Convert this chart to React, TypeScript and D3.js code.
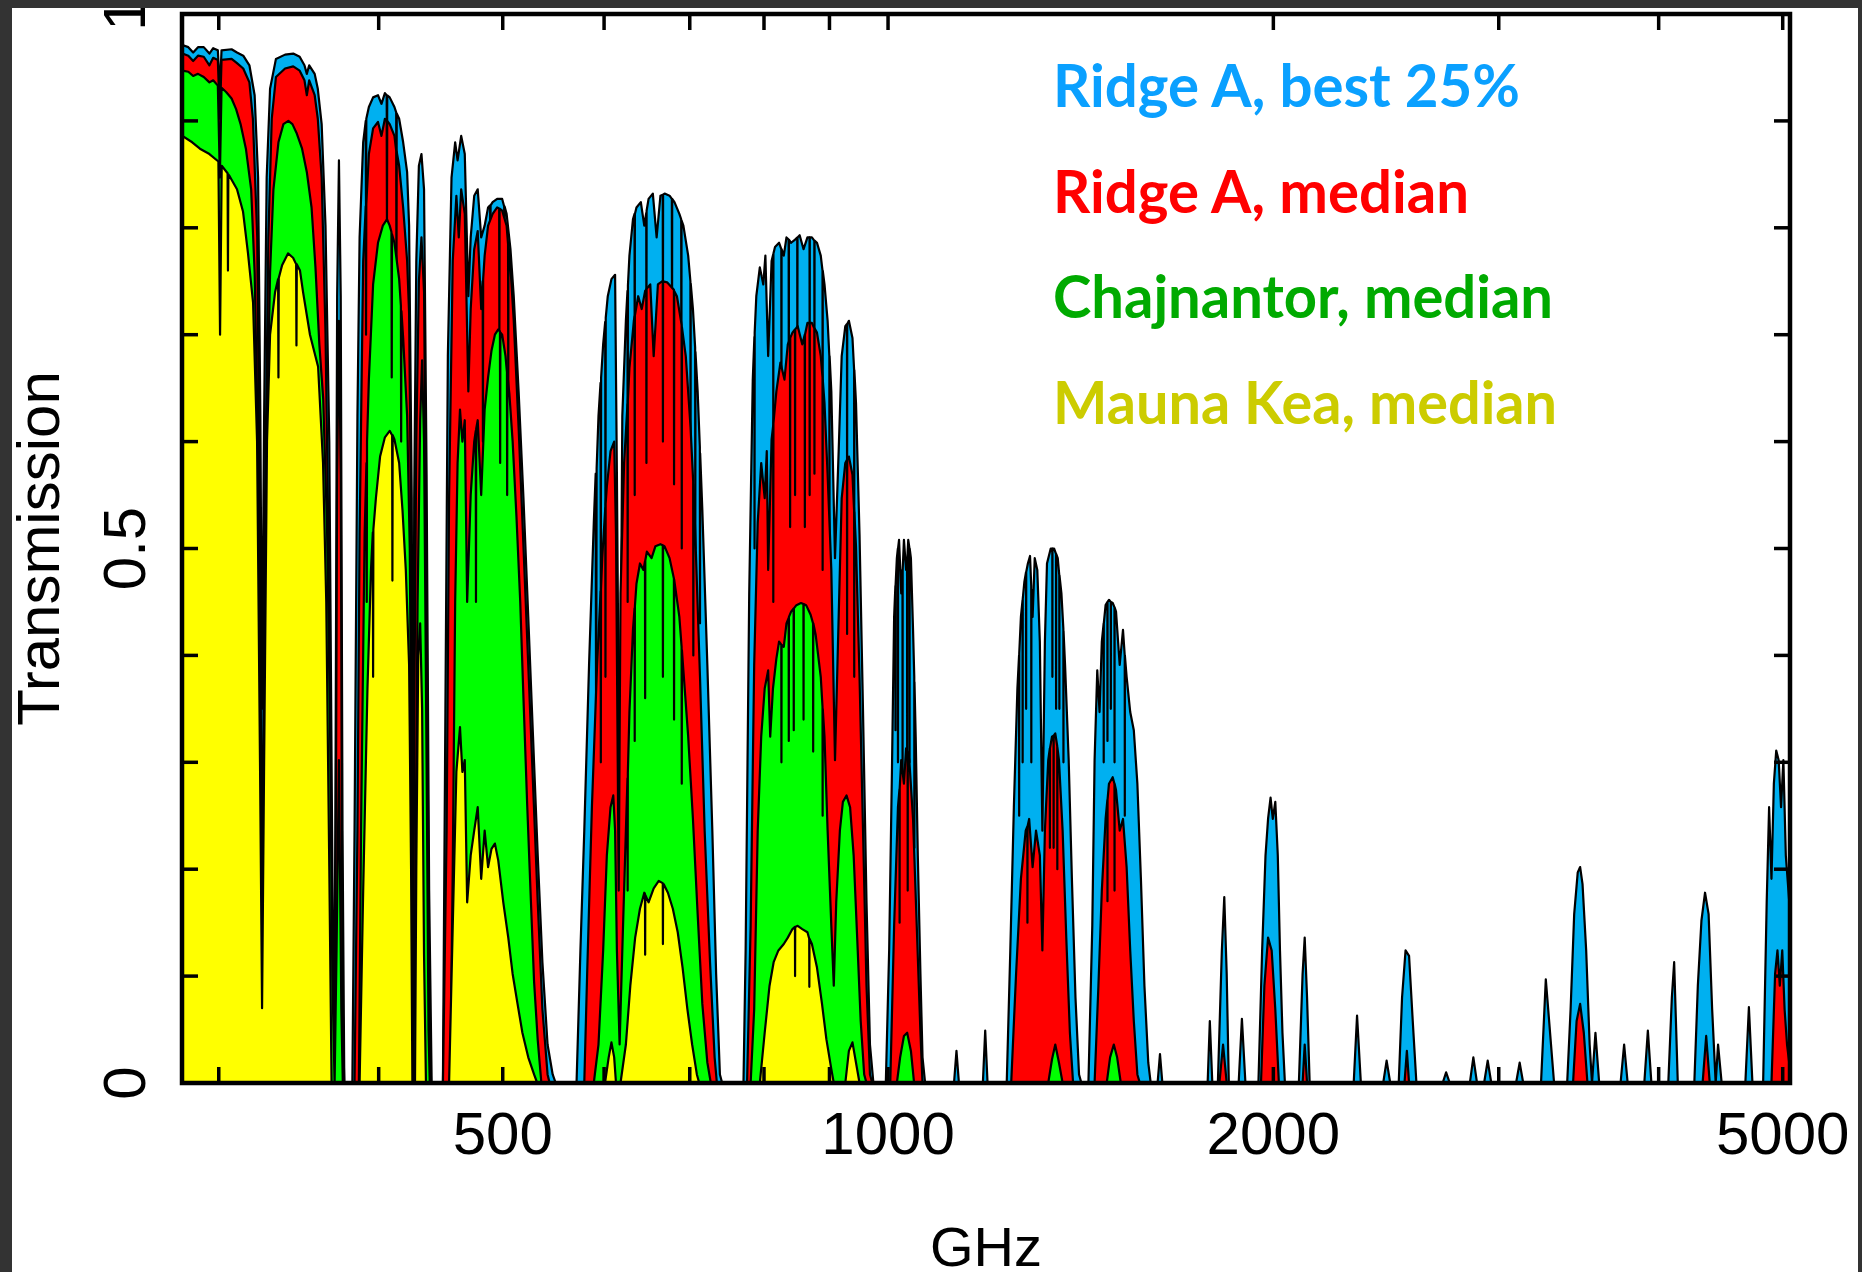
import * as d3 from "d3";
import { useEffect, useRef } from "react";

type Pt = [number, number];

// [GHz, transmission]
const ridgeBest: Pt[] = [
  [281, 0.971], [284, 0.969], [286.5, 0.964], [289, 0.969], [292, 0.969], [295, 0.963], [297, 0.968], [299.5, 0.966], [300.6, 0.93], [301.5, 0.966],
  [307, 0.967], [310, 0.964], [313.5, 0.961], [317, 0.952], [320, 0.924], [322, 0.847], [323.3, 0.624], [324.3, 0.35], [325.5, 0.624], [327, 0.847],
  [329, 0.93], [332.5, 0.958], [338, 0.962], [343, 0.963], [347, 0.96], [350, 0.952], [351.5, 0.944], [353, 0.952], [356.5, 0.944], [358.5, 0.93],
  [361, 0.897], [363.5, 0.802], [366, 0.6], [367.5, 0.3], [369, 0.008], [370, 0.236], [371.2, 0.736], [372.4, 0.863], [373.6, 0.736], [374.8, 0.236],
  [376, 0], [381.5, 0],
  [383, 0.236], [385, 0.624], [386.5, 0.791], [389, 0.88], [390.8, 0.9], [391, 0.8], [391.2, 0.902], [393, 0.913], [396, 0.922], [399.5, 0.924],
  [402, 0.916], [404.5, 0.926], [405.8, 0.924], [406, 0.85], [406.2, 0.924], [408, 0.922], [411.5, 0.913], [412.8, 0.908], [413, 0.8], [413.2, 0.907],
  [415, 0.902], [418, 0.88], [421, 0.852], [422.5, 0.802], [424.5, 0.547], [425.5, 0.147], [426.4, 0.547], [428, 0.769], [430, 0.858],
  [432, 0.869], [434, 0.836], [436, 0.569], [438, 0.18], [440, 0], [449, 0],
  [451, 0.347], [453, 0.68], [456, 0.847], [459, 0.88], [461, 0.863], [464, 0.886], [467, 0.869], [470, 0.736], [472, 0.791], [475, 0.83],
  [478, 0.836], [481, 0.791], [484, 0.802], [487, 0.819], [488.8, 0.821], [489, 0.7], [489.2, 0.821], [491, 0.824], [495, 0.827], [499.5, 0.827],
  [501.3, 0.82], [501.5, 0.72], [501.7, 0.82], [503.5, 0.813], [507, 0.78], [510, 0.736],
  [514.5, 0.647], [519, 0.547], [523.5, 0.436], [528, 0.324], [532.5, 0.213], [537, 0.113], [542, 0.036], [547, 0.008], [550, 0], [571, 0],
  [575, 0.124], [579, 0.236], [584, 0.391], [589, 0.524], [591, 0.57], [591.5, 0.3], [592, 0.575], [594, 0.624], [596.2, 0.655], [596.5, 0.45],
  [596.8, 0.66], [599, 0.691], [601.2, 0.712], [601.5, 0.52], [601.8, 0.716], [604, 0.736], [608, 0.752], [612, 0.756], [614, 0.569],
  [617, 0.236], [620, 0.624], [624, 0.713], [625.8, 0.741], [626, 0.55], [626.3, 0.746], [628, 0.774], [632, 0.808], [633.8, 0.813], [634, 0.62],
  [634.2, 0.813], [636, 0.819], [641, 0.824], [645, 0.802], [647.3, 0.814], [647.5, 0.66], [647.7, 0.816], [650, 0.827], [655, 0.832],
  [659.5, 0.791], [664, 0.83], [666.8, 0.831], [667, 0.7], [667.2, 0.831], [669, 0.832], [675, 0.83], [677.8, 0.827], [678, 0.68], [678.2, 0.827],
  [681, 0.824], [687, 0.813], [689.3, 0.808], [689.5, 0.62], [689.7, 0.807], [692, 0.802], [698, 0.774], [700.8, 0.75], [701, 0.55], [701.2, 0.748],
  [704, 0.724], [706.8, 0.688], [707, 0.5], [707.2, 0.684], [710, 0.647], [712.8, 0.595], [713, 0.43], [713.2, 0.589],
  [716, 0.536], [722.5, 0.391], [729, 0.236], [734, 0.102], [739, 0.008], [742, 0], [771, 0],
  [774, 0.124], [779, 0.458], [784, 0.658], [786.3, 0.698], [786.5, 0.5], [786.7, 0.702], [789, 0.736], [794, 0.763], [799, 0.747], [802, 0.774],
  [806, 0.68], [811, 0.769], [813.3, 0.775], [813.5, 0.6], [813.7, 0.776], [816, 0.782], [822, 0.786], [825.3, 0.78], [825.5, 0.62], [825.7, 0.78],
  [829, 0.774], [833, 0.791], [836.3, 0.789], [836.5, 0.6], [836.7, 0.789], [840, 0.786], [846, 0.789], [849.3, 0.791], [849.5, 0.65], [849.7, 0.791],
  [853, 0.793], [859, 0.78], [865, 0.791], [868.3, 0.791], [868.5, 0.62], [868.7, 0.791], [872, 0.791], [875.8, 0.788], [876, 0.66], [876.2, 0.788],
  [880, 0.786], [886, 0.774], [888.8, 0.76], [889, 0.55], [889.2, 0.76], [892, 0.747], [897, 0.713], [899.8, 0.68], [900, 0.45], [900.2, 0.68],
  [903, 0.647], [909, 0.491], [915, 0.591], [920, 0.68], [926, 0.708], [928.8, 0.71], [929, 0.5], [929.2, 0.71], [932, 0.713], [938, 0.697],
  [940.8, 0.667], [941, 0.45], [941.2, 0.667], [944, 0.636], [950, 0.513], [956, 0.347], [962, 0.169], [968, 0.036], [974, 0], [996, 0],
  [1002, 0.124], [1007, 0.291], [1011, 0.436], [1013.3, 0.465], [1013.5, 0.33], [1013.7, 0.466], [1016, 0.491], [1017.8, 0.5], [1018, 0.3],
  [1018.2, 0.5], [1020, 0.508], [1024, 0.458], [1026.3, 0.48], [1026.5, 0.28], [1026.7, 0.48], [1029, 0.508], [1033, 0.48], [1034.8, 0.49],
  [1035, 0.3], [1035.2, 0.49], [1037, 0.508], [1039.3, 0.5], [1039.5, 0.3], [1039.7, 0.5], [1042, 0.491],
  [1046, 0.424], [1048.3, 0.38], [1048.5, 0.22], [1048.7, 0.375], [1051, 0.324], [1055, 0.213], [1060, 0.102], [1064, 0.024], [1069, 0],
  [1126, 0], [1131, 0.03], [1136, 0], [1186, 0], [1191, 0.049], [1196, 0],
  [1238, 0], [1246, 0.124], [1254, 0.258], [1262, 0.369], [1265.8, 0.4], [1266, 0.25], [1266.2, 0.402], [1270, 0.436], [1273.8, 0.452],
  [1274, 0.3], [1274.2, 0.453], [1278, 0.469], [1281.8, 0.478], [1282, 0.35], [1282.2, 0.478],
  [1286, 0.486], [1291, 0.493], [1293.8, 0.465], [1294, 0.3], [1294.2, 0.462], [1297, 0.436], [1302, 0.491],
  [1308, 0.48], [1314, 0.413], [1320, 0.236], [1326, 0.413], [1331, 0.486], [1340, 0.5], [1343.8, 0.5], [1344, 0.38], [1344.2, 0.5], [1348, 0.5],
  [1352.8, 0.495], [1353, 0.35], [1353.2, 0.495], [1357, 0.491], [1360.8, 0.475], [1361, 0.35], [1361.2, 0.475], [1366, 0.458], [1370.8, 0.425],
  [1371, 0.3], [1371.2, 0.423], [1375, 0.391],
  [1384, 0.302], [1392, 0.191], [1401, 0.08], [1410, 0.008], [1416, 0],
  [1434, 0], [1444, 0.147], [1450, 0.302], [1457, 0.386], [1463, 0.347], [1469, 0.413], [1473.8, 0.43], [1474, 0.3], [1474.2, 0.43], [1479, 0.447],
  [1483.8, 0.45], [1484, 0.32], [1484.2, 0.45], [1488, 0.452], [1492.8, 0.45], [1493, 0.35],
  [1493.2, 0.45], [1498, 0.449], [1502.8, 0.445], [1503, 0.3], [1503.2, 0.445], [1507, 0.441],
  [1517, 0.391], [1526, 0.424], [1530.8, 0.4], [1531, 0.25], [1531.2, 0.4], [1536, 0.38], [1546, 0.347], [1556, 0.33], [1566, 0.28], [1576, 0.191],
  [1586, 0.091], [1597, 0.019], [1604, 0],
  [1624, 0], [1631, 0.027], [1638, 0], [1777, 0], [1784, 0.058], [1792, 0], [1810, 0], [1823, 0.124], [1831, 0.174], [1839, 0.102],
  [1846, 0], [1879, 0], [1890, 0.06], [1902, 0],
  [1947, 0], [1960, 0.124], [1972, 0.213], [1981, 0.247], [1990, 0.267], [1998, 0.247], [2007, 0.263], [2016, 0.213], [2024, 0.124], [2033, 0.047],
  [2042, 0], [2094, 0], [2108, 0.102], [2116, 0.136], [2125, 0.08], [2135, 0],
  [2311, 0], [2325, 0.063], [2341, 0], [2437, 0], [2452, 0.021], [2468, 0],
  [2506, 0], [2521, 0.08], [2537, 0.124], [2553, 0.119], [2570, 0.058], [2587, 0],
  [2712, 0], [2729, 0.01], [2747, 0], [2848, 0], [2866, 0.024], [2885, 0], [2922, 0], [2941, 0.021], [2960, 0], [3095, 0], [3115, 0.019], [3135, 0],
  [3237, 0], [3265, 0.097], [3314, 0],
  [3393, 0], [3414, 0.069], [3436, 0.158], [3458, 0.197], [3473, 0.202], [3488, 0.186], [3511, 0.124], [3533, 0.036], [3548, 0], [3570, 0.047], [3594, 0],
  [3735, 0], [3759, 0.036], [3783, 0], [3898, 0], [3923, 0.049], [3948, 0],
  [4070, 0], [4096, 0.08], [4113, 0.113], [4140, 0],
  [4265, 0], [4292, 0.091], [4320, 0.152], [4348, 0.178], [4376, 0.158], [4404, 0.069], [4432, 0], [4451, 0.036], [4480, 0],
  [4675, 0], [4705, 0.071], [4735, 0],
  [4827, 0], [4858, 0.169], [4879, 0.258], [4900, 0.191], [4921, 0.28], [4942, 0.311], [4964, 0.302], [4985, 0.258], [5006, 0.302], [5028, 0.213],
  [5066, 0.16],
];

const ridgeMedian: Pt[] = [
  [281, 0.963], [284, 0.961], [286.5, 0.956], [289, 0.961], [292, 0.96], [295, 0.952], [297, 0.959], [299.5, 0.957], [300.6, 0.902], [301.5, 0.957],
  [307, 0.958], [310, 0.954], [313.5, 0.949], [317, 0.936], [319, 0.902], [321.5, 0.791], [323, 0.513], [324.3, 0.147], [325.8, 0.513], [328, 0.791],
  [330, 0.902], [332.5, 0.941], [338, 0.949], [343, 0.951], [347, 0.947], [350, 0.938], [351.5, 0.924], [353, 0.938], [356.5, 0.924], [358.5, 0.902],
  [361, 0.847], [363.5, 0.702], [365.5, 0.5], [367, 0.2], [368.5, 0], [370, 0.124], [371.2, 0.569], [372.4, 0.713], [373.6, 0.569], [374.8, 0.069],
  [376, 0], [383, 0],
  [385, 0.236], [386.5, 0.513], [389, 0.769], [390.8, 0.82], [391, 0.7], [391.2, 0.822], [393, 0.869], [396, 0.893], [399.5, 0.899], [402, 0.886],
  [404.5, 0.902], [405.8, 0.9], [406, 0.8], [406.2, 0.9], [408, 0.897], [411.5, 0.886], [412.8, 0.872], [413, 0.75], [413.2, 0.871],
  [415, 0.858], [418, 0.819], [421, 0.769], [422.5, 0.72], [424.5, 0.45], [425.5, 0.05], [426.5, 0.35], [428, 0.6], [430, 0.75], [432, 0.791],
  [434, 0.74], [436, 0.45], [438, 0.1], [439.5, 0], [449, 0],
  [452, 0.236], [454, 0.547], [457, 0.769], [460, 0.83], [462, 0.791], [464, 0.836], [467, 0.813], [470, 0.647], [472, 0.724], [475, 0.78],
  [478, 0.797], [481, 0.724], [482.3, 0.75], [482.5, 0.6], [482.7, 0.752], [484, 0.774], [487, 0.802], [491, 0.813], [495, 0.819], [496.8, 0.818],
  [497, 0.7], [497.2, 0.818], [499.5, 0.816], [503.5, 0.802], [504.8, 0.785], [505, 0.65], [505.2, 0.784], [507, 0.763], [510, 0.713],
  [514.5, 0.613], [519, 0.502], [523.5, 0.391], [528, 0.28], [532.5, 0.169], [537, 0.069], [542, 0.008], [544, 0], [579, 0],
  [582, 0.102], [587, 0.258], [592.5, 0.391], [596.3, 0.46], [596.5, 0.3], [596.7, 0.462], [598, 0.491], [601.3, 0.538], [601.5, 0.38], [601.7, 0.542],
  [603, 0.558], [607, 0.591], [611, 0.6], [613, 0.513], [616, 0.18], [618, 0.458],
  [622, 0.58], [625.8, 0.635], [626, 0.45], [626.2, 0.638], [628, 0.669], [633, 0.713], [633.8, 0.717], [634, 0.55], [634.2, 0.718], [638, 0.736],
  [642, 0.724], [646, 0.741], [647.3, 0.742], [647.5, 0.58], [647.7, 0.743], [652, 0.747], [656, 0.68], [661, 0.747], [666, 0.75], [666.8, 0.75],
  [667, 0.6], [667.2, 0.75], [672, 0.749], [678, 0.744], [680.3, 0.742], [680.5, 0.56], [680.7, 0.741], [684, 0.736], [689, 0.713], [689.8, 0.709],
  [690, 0.5], [690.2, 0.707], [695, 0.68], [701, 0.613], [704.3, 0.563], [704.5, 0.4], [704.7, 0.56], [707, 0.513], [713, 0.38], [719, 0.236], [726, 0.113],
  [732, 0.024], [735, 0], [776, 0],
  [781, 0.147], [786, 0.391], [791, 0.524], [796, 0.58], [801, 0.547], [804, 0.591], [806, 0.48], [811, 0.602], [813.3, 0.615], [813.5, 0.45],
  [813.7, 0.617], [818, 0.647], [824, 0.674], [830, 0.658], [835, 0.691], [838.3, 0.696], [838.5, 0.52], [838.7, 0.697], [842, 0.702], [845.8, 0.705],
  [846, 0.55], [846.2, 0.705], [850, 0.708], [857, 0.691], [860.8, 0.7], [861, 0.52], [861.2, 0.7], [865, 0.711], [868.3, 0.711], [868.5, 0.55],
  [868.7, 0.711], [872, 0.711], [875.8, 0.706], [876, 0.57], [876.2, 0.706], [880, 0.702], [886, 0.68], [888.8, 0.66], [889, 0.48], [889.2, 0.658],
  [892, 0.636], [897, 0.569], [903, 0.48], [909, 0.302], [915, 0.436], [920, 0.547], [926, 0.58], [928.8, 0.583], [929, 0.42], [929.2, 0.583],
  [932, 0.586], [938, 0.569], [940.8, 0.535], [941, 0.38], [941.2, 0.534], [944, 0.502], [950, 0.38],
  [956, 0.236], [962, 0.091], [968, 0.008], [972, 0], [1004, 0],
  [1011, 0.147], [1018, 0.258], [1020.8, 0.275], [1021, 0.15], [1021.2, 0.276], [1024, 0.302], [1029, 0.28], [1033, 0.313], [1035.8, 0.31],
  [1036, 0.18], [1036.2, 0.31], [1039, 0.302], [1046, 0.247], [1053, 0.147], [1060, 0.047], [1064, 0],
  [1248, 0], [1259, 0.102], [1270, 0.191], [1281, 0.236], [1284.8, 0.24], [1285, 0.15], [1285.2, 0.24], [1289, 0.247], [1297, 0.202], [1305, 0.236],
  [1314, 0.213], [1320, 0.124], [1326, 0.236],
  [1334, 0.302], [1337.8, 0.313], [1338, 0.22], [1338.2, 0.313], [1343, 0.324], [1346.8, 0.325], [1347, 0.22], [1347.2, 0.325], [1351, 0.327],
  [1355.8, 0.315], [1356, 0.2], [1356.2, 0.314], [1360, 0.302], [1369, 0.236], [1378, 0.136],
  [1387, 0.047], [1395, 0],
  [1450, 0], [1460, 0.091], [1469, 0.18], [1479, 0.247], [1483.8, 0.265], [1484, 0.17], [1484.2, 0.265], [1488, 0.28], [1498, 0.286],
  [1502.8, 0.28], [1503, 0.18], [1503.2, 0.28], [1507, 0.274], [1517, 0.236], [1526, 0.247], [1536, 0.202],
  [1546, 0.124], [1556, 0.058], [1566, 0.008], [1573, 0],
  [1815, 0], [1827, 0.036], [1839, 0],
  [1956, 0], [1968, 0.091], [1981, 0.136], [1994, 0.124], [2007, 0.069], [2020, 0],
  [2108, 0], [2116, 0.036], [2125, 0], [2532, 0], [2543, 0.03], [2553, 0],
  [3429, 0], [3451, 0.058], [3473, 0.074], [3496, 0.047], [3519, 0],
  [4329, 0], [4357, 0.044], [4385, 0],
  [4900, 0], [4932, 0.102], [4953, 0.124], [4974, 0.091], [4996, 0.124], [5017, 0.069], [5039, 0.036], [5066, 0.013],
];

const chajMedian: Pt[] = [
  [281, 0.947], [284, 0.946], [286.5, 0.942], [289, 0.944], [292, 0.941], [295, 0.936], [297, 0.938], [299.5, 0.933], [300.6, 0.847], [301.5, 0.931],
  [304, 0.927], [307, 0.921], [309.5, 0.911], [312, 0.897], [315, 0.874], [318, 0.836], [320, 0.758], [322, 0.591], [323.3, 0.347], [324.3, 0.024],
  [325.5, 0.347], [327, 0.591], [329, 0.758], [331, 0.836], [334, 0.88], [337, 0.897], [340, 0.9], [342.5, 0.897], [345, 0.889], [348.5, 0.874],
  [351.5, 0.852], [354.5, 0.819], [357, 0.763], [359.5, 0.691], [362, 0.64], [364.5, 0.52], [366.5, 0.33], [368, 0.1], [369.5, 0], [370.8, 0.124],
  [372.4, 0.302], [374, 0.069], [375, 0], [386, 0],
  [387.5, 0.236], [390, 0.513], [391.3, 0.58], [391.5, 0.45], [391.7, 0.6], [393, 0.658], [396, 0.747], [399.5, 0.786], [403, 0.802], [406, 0.808],
  [408, 0.802], [409.3, 0.796], [409.5, 0.66], [409.7, 0.794], [411.5, 0.786], [415, 0.752], [416.3, 0.727], [416.5, 0.6], [416.7, 0.722],
  [418, 0.697], [421, 0.624], [423, 0.5], [424.5, 0.25], [425.5, 0], [427, 0.15], [429, 0.45], [431, 0.62], [432.5, 0.676], [434, 0.6],
  [436, 0.3], [437.5, 0.05], [438.5, 0], [455, 0],
  [457, 0.2], [459, 0.45], [461, 0.58], [463, 0.63], [465, 0.6], [467, 0.62], [469, 0.45], [472, 0.55], [475, 0.6], [476.3, 0.61],
  [476.5, 0.45], [476.7, 0.612], [478, 0.62], [481, 0.55], [484, 0.63], [487, 0.66], [490, 0.685], [493, 0.7], [496, 0.705], [497.5, 0.703],
  [497.7, 0.58], [497.9, 0.702], [499.5, 0.7], [502.5, 0.68], [503.8, 0.665], [504, 0.55], [504.2, 0.663], [506, 0.645], [509, 0.6],
  [512.5, 0.53], [516, 0.45], [519, 0.36], [522.5, 0.26], [526, 0.17], [529, 0.095], [532.5, 0.04], [536, 0], [589, 0],
  [594, 0.036], [599, 0.124], [603, 0.213], [607, 0.258], [610, 0.269], [612, 0.236], [614, 0.124], [617, 0.036], [620, 0.124], [624, 0.236],
  [625.8, 0.285], [626, 0.18], [626.2, 0.29], [628, 0.347], [632, 0.424], [633.8, 0.444], [634, 0.32], [634.2, 0.446], [636, 0.467], [640, 0.486],
  [644, 0.48], [645.8, 0.488], [646, 0.36], [646.2, 0.489], [648, 0.497], [653.5, 0.491], [658, 0.502], [664, 0.504], [666.8, 0.503], [667, 0.38],
  [667.2, 0.503], [669, 0.502], [675, 0.491], [680.3, 0.472], [680.5, 0.34], [680.7, 0.471], [681, 0.469], [687, 0.436], [689.8, 0.408], [690, 0.28],
  [690.2, 0.405], [692, 0.386], [698, 0.324], [704, 0.247], [710, 0.158], [716, 0.074], [722.5, 0.019], [727, 0],
  [781, 0], [786, 0.069], [791, 0.236], [796, 0.324], [801, 0.369], [806, 0.386], [809, 0.324], [813, 0.369], [818, 0.397], [822, 0.413],
  [825.3, 0.41], [825.5, 0.3], [825.7, 0.41], [829, 0.408], [833, 0.43], [836.3, 0.435], [836.5, 0.32], [836.7, 0.436], [840, 0.441], [843.8, 0.444],
  [844, 0.33], [844.2, 0.444], [848, 0.447], [855, 0.449], [858.8, 0.448], [859, 0.34], [859.2, 0.448], [863, 0.447], [870, 0.438], [873.8, 0.43],
  [874, 0.31], [874.2, 0.43], [878, 0.419], [886, 0.38], [888.8, 0.352], [889, 0.25], [889.2, 0.35], [892, 0.324],
  [897, 0.236], [903, 0.147], [907, 0.091], [911, 0.169], [917, 0.236], [922, 0.263], [928, 0.269], [934, 0.258], [940, 0.213], [946, 0.136],
  [952, 0.058], [958, 0.008], [962, 0],
  [1016, 0], [1022, 0.024], [1029, 0.044], [1035, 0.047], [1042, 0.03], [1048, 0],
  [1334, 0], [1343, 0.022], [1351, 0.036], [1360, 0.019], [1369, 0],
  [1482, 0], [1491, 0.024], [1501, 0.036], [1510, 0.024], [1520, 0], [5066, 0],
];

const maunaMedian: Pt[] = [
  [281, 0.886], [286, 0.88], [290, 0.874], [295, 0.869], [299.8, 0.862], [300.7, 0.7], [301.6, 0.858], [304.8, 0.851], [305, 0.76], [305.2, 0.85],
  [306, 0.848], [310, 0.836], [313.4, 0.815],
  [316.2, 0.776], [319.1, 0.73], [321.4, 0.6], [323.1, 0.3], [324.3, 0.07], [325.5, 0.3], [327.2, 0.6], [329, 0.7], [332, 0.74], [333.8, 0.752],
  [334, 0.66], [334.2, 0.753], [336.2, 0.765],
  [339.8, 0.776], [342.9, 0.772], [344.8, 0.766], [345, 0.69], [345.2, 0.766], [347.2, 0.76], [349.1, 0.74], [353.5, 0.7], [358.7, 0.67],
  [361.9, 0.58], [364, 0.45], [366, 0.2], [367.5, 0],
  [386.5, 0], [389, 0.18], [392, 0.369], [394.5, 0.48], [395.8, 0.515], [396, 0.38], [396.2, 0.518], [398, 0.547], [401, 0.586], [404.5, 0.604],
  [408, 0.61], [409.8, 0.606], [410, 0.47], [410.2, 0.606], [411.5, 0.602], [415, 0.58],
  [417.5, 0.536], [420, 0.48], [422.5, 0.391], [424, 0.2], [425, 0], [427, 0], [428, 0.2], [429.5, 0.4], [431, 0.43], [432.5, 0.35],
  [434, 0.12], [435.5, 0], [454, 0],
  [457, 0.147], [460, 0.291], [463, 0.333], [465, 0.291], [467, 0.302], [469, 0.169], [472, 0.213], [475, 0.236], [478, 0.258], [481, 0.191],
  [484, 0.236], [487, 0.202], [490, 0.219], [493, 0.224], [496, 0.208], [500.5, 0.169], [505, 0.136], [509, 0.102], [513.5, 0.074], [518, 0.047],
  [523.5, 0.024], [529, 0.008], [532, 0],
  [601, 0], [605, 0.024], [608, 0.038], [611, 0.024], [613, 0], [618, 0], [624, 0.036], [629, 0.091], [634.5, 0.136], [640, 0.163],
  [645, 0.178], [645.8, 0.177], [646, 0.12], [646.2, 0.176], [650, 0.169], [656, 0.182], [662, 0.189], [666.8, 0.187], [667, 0.13], [667.2, 0.186],
  [668, 0.186], [673, 0.178], [679, 0.163], [685, 0.141], [691, 0.108], [697, 0.069],
  [703, 0.036], [709, 0.008], [712, 0],
  [794, 0], [801, 0.047], [808, 0.091], [814, 0.113], [821, 0.124], [829, 0.13], [835, 0.136], [842, 0.144], [845.8, 0.146], [846, 0.1],
  [846.2, 0.146], [850, 0.147], [857, 0.144],
  [865, 0.141], [867.8, 0.135], [868, 0.09], [868.2, 0.135], [872, 0.13], [880, 0.108], [888, 0.074], [895, 0.041], [903, 0.013], [907, 0],
  [926, 0], [932, 0.03], [938, 0.038], [944, 0.019], [950, 0], [5066, 0],
];

const seriesColors = ["#00b0f0", "#ff0000", "#00ff00", "#ffff00"];
const legendLabels = ["Ridge A, best 25%", "Ridge A, median", "Chajnantor, median", "Mauna Kea, median"];
const legendColors = ["#0aa0ff", "#ff0000", "#00aa00", "#cccc00"];
const legendWidths = [467, 416, 500, 504];

const xTicks = [300, 400, 500, 600, 700, 800, 900, 1000, 2000, 3000, 4000, 5000];
const xLabels = [500, 1000, 2000, 5000];
const yTicks = [0, 0.1, 0.2, 0.3, 0.4, 0.5, 0.6, 0.7, 0.8, 0.9, 1];
const yLabels = [0, 0.5, 1];

const W = 1862;
const H = 1272;
const L = 182, R = 1790, T = 14, B = 1083;

export default function App() {
  const ref = useRef<SVGSVGElement>(null);

  useEffect(() => {
    if (!ref.current) return;
    const svg = d3.select(ref.current);
    svg.selectAll("*").remove();

    svg.append("rect").attr("width", W).attr("height", H).attr("fill", "#fff");

    const x = d3.scaleLog().domain([280.8, 5066]).range([L, R]);
    const y = d3.scaleLinear().domain([0, 1]).range([B, T]);

    svg.append("defs").append("clipPath").attr("id", "plot-clip")
      .append("rect").attr("x", L).attr("y", T).attr("width", R - L).attr("height", B - T);

    const area = d3.area<Pt>()
      .x(d => x(d[0]))
      .y0(y(0))
      .y1(d => y(d[1]));

    const plot = svg.append("g").attr("clip-path", "url(#plot-clip)");
    [ridgeBest, ridgeMedian, chajMedian, maunaMedian].forEach((s, i) => {
      plot.append("path")
        .datum(s)
        .attr("d", area)
        .attr("fill", seriesColors[i])
        .attr("stroke", "#000")
        .attr("stroke-width", 2.2)
        .attr("stroke-linejoin", "round");
    });

    // ticks, inward on all four sides
    const ticks = svg.append("g").attr("stroke", "#000").attr("stroke-width", 3.5);
    xTicks.forEach(t => {
      ticks.append("line").attr("x1", x(t)).attr("x2", x(t)).attr("y1", B).attr("y2", B - 16);
      ticks.append("line").attr("x1", x(t)).attr("x2", x(t)).attr("y1", T).attr("y2", T + 16);
    });
    yTicks.forEach(t => {
      ticks.append("line").attr("x1", L).attr("x2", L + 16).attr("y1", y(t)).attr("y2", y(t));
      ticks.append("line").attr("x1", R).attr("x2", R - 16).attr("y1", y(t)).attr("y2", y(t));
    });

    svg.append("rect")
      .attr("x", L).attr("y", T).attr("width", R - L).attr("height", B - T)
      .attr("fill", "none").attr("stroke", "#000").attr("stroke-width", 4.5);

    const axisFont = "'Liberation Sans', Arial, Helvetica, sans-serif";

    xLabels.forEach(v => {
      svg.append("text")
        .attr("x", x(v)).attr("y", 1154)
        .attr("text-anchor", "middle")
        .attr("font-family", axisFont).attr("font-size", 60)
        .attr("fill", "#000")
        .text(v);
    });

    yLabels.forEach(v => {
      svg.append("text")
        .attr("transform", `translate(145,${y(v)}) rotate(-90)`)
        .attr("text-anchor", "middle")
        .attr("font-family", axisFont).attr("font-size", 60)
        .attr("fill", "#000")
        .text(v);
    });

    svg.append("text")
      .attr("x", 986).attr("y", 1266)
      .attr("text-anchor", "middle")
      .attr("font-family", axisFont).attr("font-size", 56)
      .text("GHz");

    svg.append("text")
      .attr("transform", `translate(59,${y(0.5)}) rotate(-90)`)
      .attr("text-anchor", "middle")
      .attr("font-family", axisFont).attr("font-size", 60)
      .text("Transmission");

    // legend
    legendLabels.forEach((lab, i) => {
      svg.append("text")
        .attr("x", 1053).attr("y", 107 + i * 105.7)
        .attr("font-family", "Lato, 'Open Sans', sans-serif")
        .attr("font-weight", "bold")
        .attr("font-size", 60)
        .attr("fill", legendColors[i])
        .attr("textLength", legendWidths[i])
        .attr("lengthAdjust", "spacingAndGlyphs")
        .text(lab);
    });

    // dark window border of the screenshot
    svg.append("rect").attr("x", 0).attr("y", 0).attr("width", W).attr("height", 8).attr("fill", "#333");
    svg.append("rect").attr("x", 0).attr("y", 0).attr("width", 12).attr("height", H).attr("fill", "#333");
    svg.append("rect").attr("x", 1858).attr("y", 0).attr("width", 4).attr("height", H).attr("fill", "#333");
  }, []);

  return (
    <svg
      ref={ref}
      width={W}
      height={H}
      style={{ position: "absolute", left: 0, top: 0, display: "block" }}
    />
  );
}
